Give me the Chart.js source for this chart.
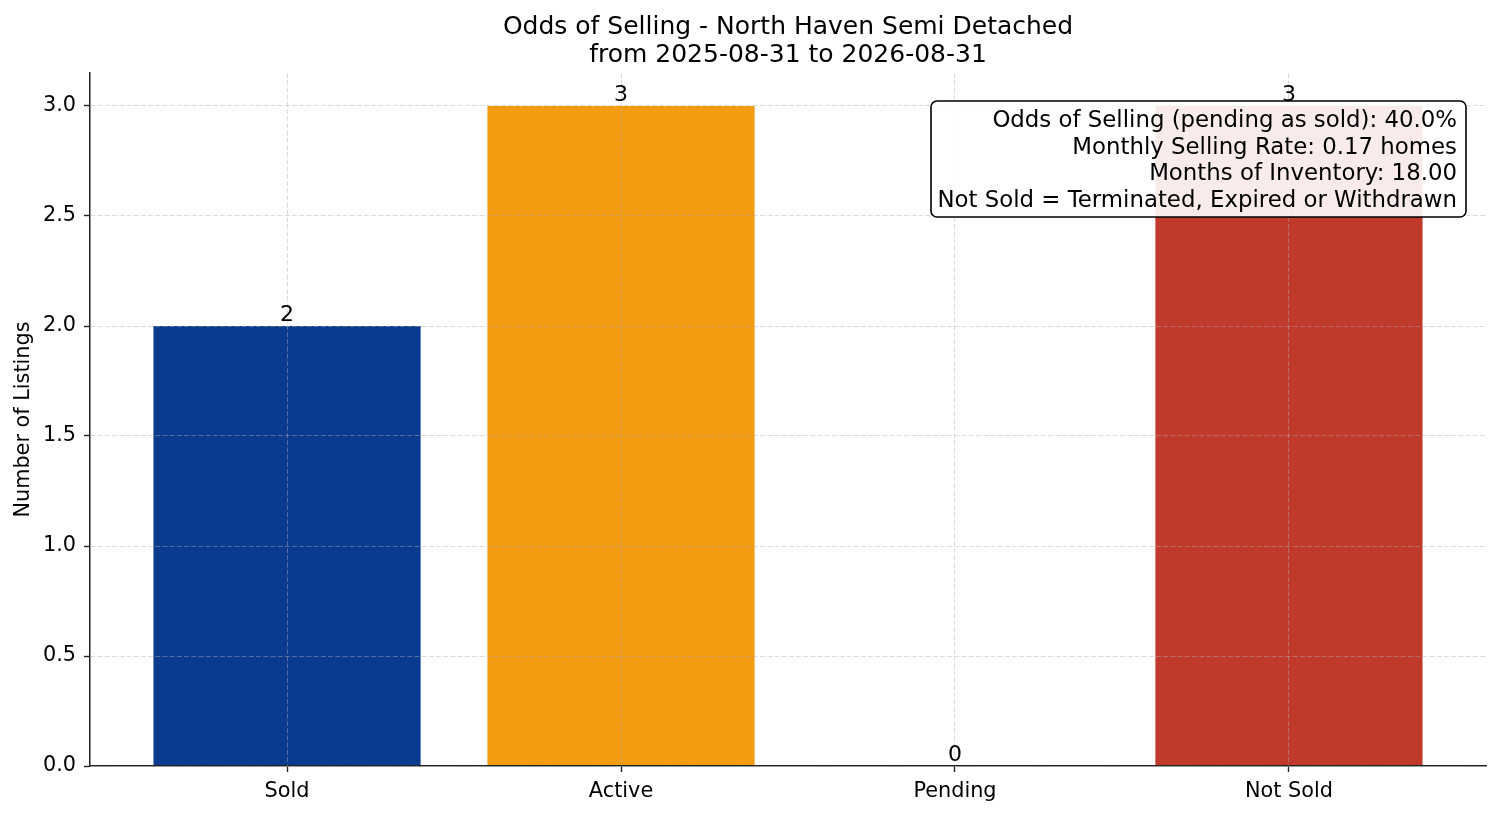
<!DOCTYPE html>
<html><head><meta charset="utf-8">
<script src="https://cdn.jsdelivr.net/npm/chart.js@4.4.1/dist/chart.umd.min.js"></script>
<style>html,body{margin:0;padding:0;background:#fff}canvas{display:block}</style>
</head><body>
<canvas id="c" width="1501" height="816"></canvas>
<script>
const categories = ['Sold', 'Active', 'Pending', 'Not Sold'];
const counts = [2, 3, 0, 3];
const barColors = ['#0b3b8f', '#f39c12', '#27ae60', '#c0392b'];
const yTicks = [0, 0.5, 1.0, 1.5, 2.0, 2.5, 3.0];
const titleLines = ['Odds of Selling - North Haven Semi Detached', 'from 2025-08-31 to 2026-08-31'];
const yAxisLabel = 'Number of Listings';
const infoLines = [
  'Odds of Selling (pending as sold): 40.0%',
  'Monthly Selling Rate: 0.17 homes',
  'Months of Inventory: 18.00',
  'Not Sold = Terminated, Expired or Withdrawn'
];

const FONT = "'DejaVu Sans', sans-serif";
const TXT = '#000';

const overlay = {
  id: 'overlay',
  afterDraw(chart) {
    const ctx = chart.ctx;
    const ca = chart.chartArea;
    const xs = chart.scales.x, ys = chart.scales.y;
    ctx.save();
    // title
    ctx.fillStyle = TXT;
    ctx.font = '25px ' + FONT;
    ctx.textAlign = 'center';
    ctx.textBaseline = 'middle';
    const cx = (ca.left + ca.right) / 2;
    ctx.fillText(titleLines[0], cx, 27);
    ctx.fillText(titleLines[1], cx, 55);
    // value labels
    ctx.font = '22px ' + FONT;
    ctx.textBaseline = 'alphabetic';
    counts.forEach((v, i) => {
      ctx.fillText(String(v), xs.getPixelForValue(i), ys.getPixelForValue(v) - 5);
    });
    // info box
    ctx.font = '22.85px ' + FONT;
    const right = ca.right - 20, top = ca.top + 28;
    const w = 535, h = 116;
    ctx.beginPath();
    ctx.roundRect(right - w, top, w, h, 6);
    ctx.fillStyle = 'rgba(255,255,255,0.9)';
    ctx.fill();
    ctx.lineWidth = 1.6;
    ctx.strokeStyle = '#000';
    ctx.stroke();
    ctx.fillStyle = TXT;
    ctx.textAlign = 'right';
    ctx.textBaseline = 'middle';
    infoLines.forEach((t, k) => ctx.fillText(t, right - 9, top + 20 + k * 26.7));
    ctx.restore();
  }
};

const gridOpts = {
  z: 1, color: 'rgba(176,176,176,0.5)', lineWidth: 0.9,
  drawTicks: true, tickLength: 6, tickColor: '#222', tickWidth: 1.4, tickBorderDash: [],
  offset: false
};

new Chart(document.getElementById('c'), {
  type: 'bar',
  data: {
    datasets: [{
      data: counts.map((v, i) => ({x: i, y: v})),
      backgroundColor: barColors,
      borderWidth: 0,
      barPercentage: 0.8,
      categoryPercentage: 1.0
    }]
  },
  options: {
    responsive: false,
    animation: false,
    devicePixelRatio: 1,
    layout: {padding: {left: 0, right: 15, top: 73, bottom: 0}},
    plugins: {legend: {display: false}, tooltip: {enabled: false}, title: {display: false}},
    scales: {
      x: {
        type: 'linear',
        offset: false,
        min: -0.59, max: 3.59,
        afterBuildTicks: s => { s.ticks = categories.map((c, i) => ({value: i})); },
        afterFit: s => { s.height = 50; },
        ticks: {
          callback: v => categories[v],
          color: TXT, font: {family: FONT, size: 20.8}, padding: 7, maxRotation: 0, autoSkip: false
        },
        grid: gridOpts,
        border: {z: 1, display: true, color: '#222', width: 1.5, dash: [5, 2.2]}
      },
      y: {
        min: 0, max: 3.15,
        afterBuildTicks: s => { s.ticks = yTicks.map(v => ({value: v})); },
        afterFit: s => { s.width = 90; },
        ticks: {
          callback: v => Number(v).toFixed(1),
          color: TXT, font: {family: FONT, size: 20.8}, padding: 8
        },
        title: {display: true, text: yAxisLabel, color: TXT, font: {family: FONT, size: 20.8}, padding: {top: 11, bottom: 0}},
        grid: gridOpts,
        border: {z: 1, display: true, color: '#222', width: 1.5, dash: [5, 2.2]}
      }
    }
  },
  plugins: [overlay]
});
</script>
</body></html>
